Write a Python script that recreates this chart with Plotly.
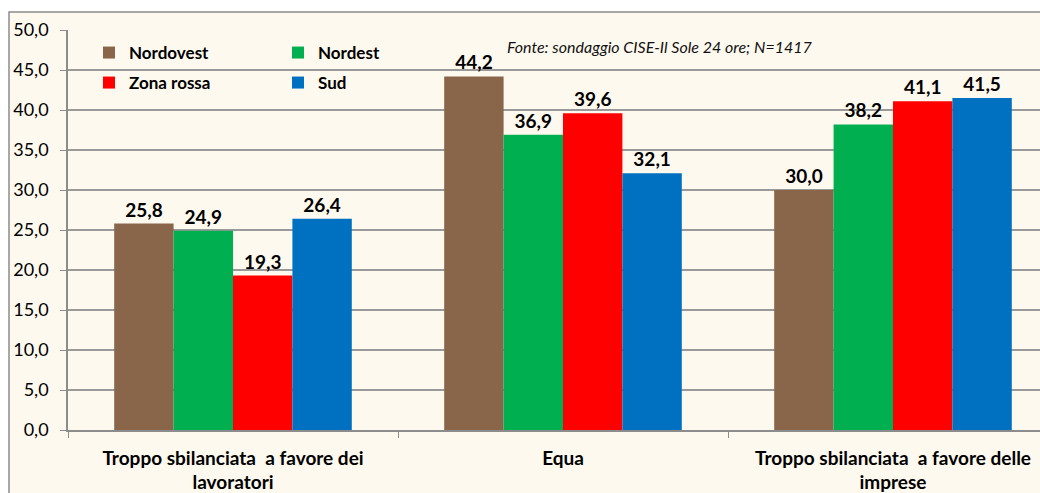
import plotly.graph_objects as go

categories = ["Troppo sbilanciata  a favore dei<br>lavoratori", "Equa", "Troppo sbilanciata  a favore delle<br>imprese"]
series_names = ["Nordovest", "Nordest", "Zona rossa", "Sud"]
nordovest = [25.8, 44.2, 30.0]
nordest = [24.9, 36.9, 38.2]
zona_rossa = [19.3, 39.6, 41.1]
sud = [26.4, 32.1, 41.5]
colors = ["#89654A", "#00B050", "#FF0000", "#0070C0"]
y_ticks = [0, 5, 10, 15, 20, 25, 30, 35, 40, 45, 50]
source_text = "Fonte: sondaggio CISE-Il Sole 24 ore; N=1417"

FONT = "Lato, Carlito, 'Liberation Sans', sans-serif"
W, H = 1040, 493
ML, MR, MT, MB = 68, 0, 30, 63
pw = W - ML - MR
ph = H - MT - MB

def px_x(p):
    return (p - ML) / pw
def px_y(p):
    return (H - MB - p) / ph

fig = go.Figure()
all_vals = [nordovest, nordest, zona_rossa, sud]
legends = ["legend", "legend", "legend2", "legend2"]
for name, vals, col, lg in zip(series_names, all_vals, colors, legends):
    fig.add_trace(go.Bar(
        x=categories, y=vals, name=name,
        marker=dict(color=col, line=dict(width=0)),
        text=[f"{v:.1f}".replace(".", ",") for v in vals],
        textposition="outside", cliponaxis=False,
        textfont=dict(family=FONT, size=19, color="black", weight="bold"),
        legend=lg,
    ))

fig.add_shape(type="rect", xref="paper", yref="paper",
              x0=px_x(9), x1=px_x(1100), y0=px_y(12), y1=px_y(560),
              fillcolor="#FEF9EF", line=dict(color="#8C8C8C", width=1.5), layer="below")

fig.add_annotation(text=source_text, xref="paper", yref="paper",
                   x=px_x(660), y=px_y(46), xanchor="center", yanchor="middle",
                   showarrow=False,
                   font=dict(family=FONT, size=16, color="#111", style="italic"))

leg_font = dict(family=FONT, size=17, color="black", weight="bold")
fig.update_layout(
    width=W, height=H,
    margin=dict(l=ML, r=MR, t=MT, b=MB, autoexpand=False),
    paper_bgcolor="white", plot_bgcolor="rgba(0,0,0,0)",
    barmode="group", bargap=0.28, bargroupgap=0,
    separators=",.",
    font=dict(family=FONT, size=16, color="black"),
    xaxis=dict(
        type="category", automargin=False,
        range=[-0.5, 2.5 - 18 / 330],
        showgrid=False, showline=True, linecolor="#8C8C8C", linewidth=1.5,
        ticks="outside", tickson="boundaries", ticklen=6, tickcolor="#8C8C8C",
        tickfont=dict(family=FONT, size=19, color="black", weight="bold"),
        ticklabelstandoff=10,
        zeroline=False,
    ),
    yaxis=dict(
        range=[0, 50], tickvals=y_ticks, tickformat=".1f", automargin=False,
        showgrid=True, gridcolor="#9A9A9A", gridwidth=1.5,
        showline=True, linecolor="#8C8C8C", linewidth=1.5,
        ticks="outside", ticklen=6, tickcolor="#8C8C8C",
        tickfont=dict(family=FONT, size=18, color="black"),
        ticklabelstandoff=8,
        zeroline=False,
    ),
    legend=dict(orientation="h", x=px_x(89), y=px_y(35), xanchor="left", yanchor="top",
                entrywidth=144, bgcolor="rgba(0,0,0,0)", font=leg_font,
                itemwidth=30, tracegroupgap=0),
    legend2=dict(orientation="h", x=px_x(89), y=px_y(65), xanchor="left", yanchor="top",
                 entrywidth=144, bgcolor="rgba(0,0,0,0)", font=leg_font,
                 itemwidth=30, tracegroupgap=0),
)

fig.write_html("out.html", config={"displayModeBar": False},
               post_script="document.body.style.margin='0';document.body.style.overflow='hidden';")
